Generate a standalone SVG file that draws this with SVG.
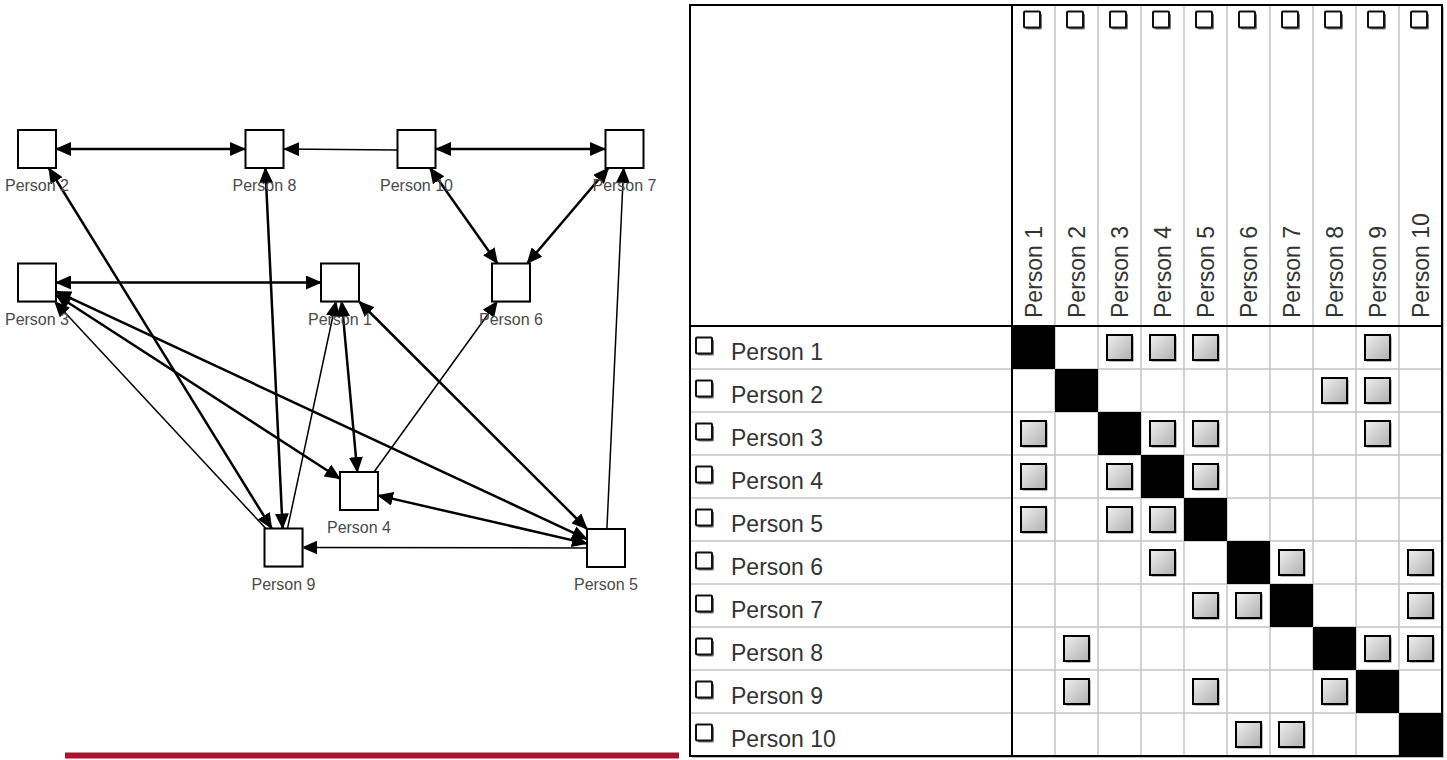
<svg xmlns="http://www.w3.org/2000/svg" width="1447" height="760" viewBox="0 0 1447 760">
<style>
.node{fill:#fff;stroke:#000;stroke-width:2}
.nshadow{fill:#aaa}
.nlabel{font-family:"Liberation Sans",Arial,sans-serif;font-size:16px;fill:#4a4a4a;text-anchor:middle}
.dbl{stroke:#000;stroke-width:2.5;fill:none;marker-start:url(#ah);marker-end:url(#ah)}
.sgl{stroke:#000;stroke-width:1.5;fill:none;marker-end:url(#ah)}
.grid{stroke:#c4c4c4;stroke-width:1.5}
.bord{stroke:#000;stroke-width:2;fill:none}
.mlabel{font-family:"Liberation Sans",Arial,sans-serif;font-size:23px;fill:#333}
.diag{fill:#000}
</style>
<defs>
<marker id="ah" markerUnits="userSpaceOnUse" markerWidth="16" markerHeight="14" viewBox="0 0 16 14" refX="15" refY="7" orient="auto-start-reverse">
<path d="M0,0 L16,7 L0,14 z" fill="#000"/>
</marker>
<linearGradient id="gg" x1="0" y1="0" x2="1" y2="1">
<stop offset="0" stop-color="#efefef"/>
<stop offset="1" stop-color="#b0b0b0"/>
</linearGradient>
<g id="gb">
<rect x="-11" y="-11" width="25" height="25" fill="#777"/>
<rect x="-12.5" y="-12.5" width="25" height="25" fill="url(#gg)" stroke="#000" stroke-width="2"/>
</g>
<g id="cb">
<rect x="-6" y="-6" width="16" height="16" rx="1.5" fill="#777"/>
<rect x="-8" y="-8" width="16" height="16" rx="1" fill="#fff" stroke="#111" stroke-width="2"/>
</g>
</defs>
<rect width="1447" height="760" fill="#fff"/>

<g id="connectors">
<line class="dbl" x1="56" y1="149" x2="245" y2="149"/>
<line class="sgl" x1="397" y1="150" x2="284" y2="149"/>
<line class="dbl" x1="436" y1="149" x2="605" y2="149"/>
<line class="dbl" x1="430" y1="168" x2="497.5" y2="263.5"/>
<line class="dbl" x1="608.4" y1="168" x2="527.2" y2="263.5"/>
<line class="dbl" x1="56" y1="282.5" x2="321" y2="282.5"/>
<line class="dbl" x1="48.8" y1="168" x2="271.7" y2="528.5"/>
<line class="dbl" x1="265.4" y1="168" x2="282.6" y2="528.5"/>
<line class="sgl" x1="287.5" y1="528.5" x2="336" y2="301.5"/>
<line class="dbl" x1="341.7" y1="301.5" x2="357.3" y2="472"/>
<line class="dbl" x1="359" y1="301.5" x2="587" y2="529"/>
<line class="dbl" x1="56" y1="294.8" x2="340" y2="478.7"/>
<line class="dbl" x1="56" y1="291.4" x2="587" y2="539.1"/>
<line class="dbl" x1="378" y1="495.4" x2="587" y2="543.6"/>
<line class="sgl" x1="265.8" y1="528.5" x2="54.7" y2="301.5"/>
<line class="sgl" x1="374" y1="472" x2="497.2" y2="301.5"/>
<line class="sgl" x1="587" y1="548" x2="302.5" y2="547.5"/>
<line class="sgl" x1="606.9" y1="529" x2="623.6" y2="168"/>
</g>

<g id="node-p2"><rect class="nshadow" x="19" y="131" width="38" height="38"/><rect class="node" x="18" y="130" width="38" height="38"/><text class="nlabel" x="37" y="191">Person 2</text></g>
<g id="node-p8"><rect class="nshadow" x="246" y="131" width="38" height="38"/><rect class="node" x="245.5" y="130" width="38" height="38"/><text class="nlabel" x="264.5" y="191">Person 8</text></g>
<g id="node-p10"><rect class="nshadow" x="398" y="131" width="38" height="38"/><rect class="node" x="397.5" y="130" width="38" height="38"/><text class="nlabel" x="416.5" y="191">Person 10</text></g>
<g id="node-p7"><rect class="nshadow" x="606" y="131" width="38" height="38"/><rect class="node" x="605.5" y="130" width="38" height="38"/><text class="nlabel" x="624.5" y="191">Person 7</text></g>
<g id="node-p3"><rect class="nshadow" x="19" y="264.5" width="38" height="38"/><rect class="node" x="18" y="263.5" width="38" height="38"/><text class="nlabel" x="37" y="324.5">Person 3</text></g>
<g id="node-p1"><rect class="nshadow" x="322" y="264.5" width="38" height="38"/><rect class="node" x="321" y="263.5" width="38" height="38"/><text class="nlabel" x="340" y="324.5">Person 1</text></g>
<g id="node-p6"><rect class="nshadow" x="493" y="264.5" width="38" height="38"/><rect class="node" x="492" y="263.5" width="38" height="38"/><text class="nlabel" x="511" y="324.5">Person 6</text></g>
<g id="node-p4"><rect class="nshadow" x="341" y="473" width="38" height="38"/><rect class="node" x="340" y="472" width="38" height="38"/><text class="nlabel" x="359" y="533">Person 4</text></g>
<g id="node-p9"><rect class="nshadow" x="265.5" y="529.5" width="38" height="38"/><rect class="node" x="264.5" y="528.5" width="38" height="38"/><text class="nlabel" x="283.5" y="590">Person 9</text></g>
<g id="node-p5"><rect class="nshadow" x="588" y="530" width="38" height="38"/><rect class="node" x="587" y="529" width="38" height="38"/><text class="nlabel" x="606" y="590">Person 5</text></g>

<rect id="red-rule" x="65" y="752.5" width="614" height="6" fill="#a8142c"/>

<g id="matrix">
<rect x="692" y="7" width="752" height="751" fill="#bbb"/>
<rect x="690" y="5" width="752" height="751" fill="#fff"/>
<g id="grid">
<line class="grid" x1="1055" y1="5" x2="1055" y2="756"/>
<line class="grid" x1="1098" y1="5" x2="1098" y2="756"/>
<line class="grid" x1="1141" y1="5" x2="1141" y2="756"/>
<line class="grid" x1="1184" y1="5" x2="1184" y2="756"/>
<line class="grid" x1="1227" y1="5" x2="1227" y2="756"/>
<line class="grid" x1="1270" y1="5" x2="1270" y2="756"/>
<line class="grid" x1="1313" y1="5" x2="1313" y2="756"/>
<line class="grid" x1="1356" y1="5" x2="1356" y2="756"/>
<line class="grid" x1="1399" y1="5" x2="1399" y2="756"/>
<line class="grid" x1="690" y1="369" x2="1442" y2="369"/>
<line class="grid" x1="690" y1="412" x2="1442" y2="412"/>
<line class="grid" x1="690" y1="455" x2="1442" y2="455"/>
<line class="grid" x1="690" y1="498" x2="1442" y2="498"/>
<line class="grid" x1="690" y1="541" x2="1442" y2="541"/>
<line class="grid" x1="690" y1="584" x2="1442" y2="584"/>
<line class="grid" x1="690" y1="627" x2="1442" y2="627"/>
<line class="grid" x1="690" y1="670" x2="1442" y2="670"/>
<line class="grid" x1="690" y1="713" x2="1442" y2="713"/>
</g>
<g id="diagonal">
<rect class="diag" x="1012" y="326" width="43" height="43"/>
<rect class="diag" x="1055" y="369" width="43" height="43"/>
<rect class="diag" x="1098" y="412" width="43" height="43"/>
<rect class="diag" x="1141" y="455" width="43" height="43"/>
<rect class="diag" x="1184" y="498" width="43" height="43"/>
<rect class="diag" x="1227" y="541" width="43" height="43"/>
<rect class="diag" x="1270" y="584" width="43" height="43"/>
<rect class="diag" x="1313" y="627" width="43" height="43"/>
<rect class="diag" x="1356" y="670" width="43" height="43"/>
<rect class="diag" x="1399" y="713" width="43" height="43"/>
</g>
<g id="marks">
<use href="#gb" x="1119.5" y="347.5"/><use href="#gb" x="1162.5" y="347.5"/><use href="#gb" x="1205.5" y="347.5"/><use href="#gb" x="1377.5" y="347.5"/>
<use href="#gb" x="1334.5" y="390.5"/><use href="#gb" x="1377.5" y="390.5"/>
<use href="#gb" x="1033.5" y="433.5"/><use href="#gb" x="1162.5" y="433.5"/><use href="#gb" x="1205.5" y="433.5"/><use href="#gb" x="1377.5" y="433.5"/>
<use href="#gb" x="1033.5" y="476.5"/><use href="#gb" x="1119.5" y="476.5"/><use href="#gb" x="1205.5" y="476.5"/>
<use href="#gb" x="1033.5" y="519.5"/><use href="#gb" x="1119.5" y="519.5"/><use href="#gb" x="1162.5" y="519.5"/>
<use href="#gb" x="1162.5" y="562.5"/><use href="#gb" x="1291.5" y="562.5"/><use href="#gb" x="1420.5" y="562.5"/>
<use href="#gb" x="1205.5" y="605.5"/><use href="#gb" x="1248.5" y="605.5"/><use href="#gb" x="1420.5" y="605.5"/>
<use href="#gb" x="1076.5" y="648.5"/><use href="#gb" x="1377.5" y="648.5"/><use href="#gb" x="1420.5" y="648.5"/>
<use href="#gb" x="1076.5" y="691.5"/><use href="#gb" x="1205.5" y="691.5"/><use href="#gb" x="1334.5" y="691.5"/>
<use href="#gb" x="1248.5" y="734.5"/><use href="#gb" x="1291.5" y="734.5"/>
</g>
<g id="borders">
<rect class="bord" x="690" y="5" width="752" height="751"/>
<line class="bord" x1="1012" y1="5" x2="1012" y2="756"/>
<line class="bord" x1="690" y1="326" x2="1442" y2="326"/>
</g>
<g id="col-headers">
<use href="#cb" x="1032" y="19.5"/><use href="#cb" x="1075" y="19.5"/><use href="#cb" x="1118" y="19.5"/><use href="#cb" x="1161" y="19.5"/><use href="#cb" x="1204" y="19.5"/>
<use href="#cb" x="1247" y="19.5"/><use href="#cb" x="1290" y="19.5"/><use href="#cb" x="1333" y="19.5"/><use href="#cb" x="1376" y="19.5"/><use href="#cb" x="1419" y="19.5"/>
<text class="mlabel" transform="translate(1042,318) rotate(-90)">Person 1</text>
<text class="mlabel" transform="translate(1085,318) rotate(-90)">Person 2</text>
<text class="mlabel" transform="translate(1128,318) rotate(-90)">Person 3</text>
<text class="mlabel" transform="translate(1171,318) rotate(-90)">Person 4</text>
<text class="mlabel" transform="translate(1214,318) rotate(-90)">Person 5</text>
<text class="mlabel" transform="translate(1257,318) rotate(-90)">Person 6</text>
<text class="mlabel" transform="translate(1300,318) rotate(-90)">Person 7</text>
<text class="mlabel" transform="translate(1343,318) rotate(-90)">Person 8</text>
<text class="mlabel" transform="translate(1386,318) rotate(-90)">Person 9</text>
<text class="mlabel" transform="translate(1429,318) rotate(-90)">Person 10</text>
</g>
<g id="row-headers">
<use href="#cb" x="704" y="345.5"/><text class="mlabel" x="731" y="359.5">Person 1</text>
<use href="#cb" x="704" y="388.5"/><text class="mlabel" x="731" y="402.5">Person 2</text>
<use href="#cb" x="704" y="431.5"/><text class="mlabel" x="731" y="445.5">Person 3</text>
<use href="#cb" x="704" y="474.5"/><text class="mlabel" x="731" y="488.5">Person 4</text>
<use href="#cb" x="704" y="517.5"/><text class="mlabel" x="731" y="531.5">Person 5</text>
<use href="#cb" x="704" y="560.5"/><text class="mlabel" x="731" y="574.5">Person 6</text>
<use href="#cb" x="704" y="603.5"/><text class="mlabel" x="731" y="617.5">Person 7</text>
<use href="#cb" x="704" y="646.5"/><text class="mlabel" x="731" y="660.5">Person 8</text>
<use href="#cb" x="704" y="689.5"/><text class="mlabel" x="731" y="703.5">Person 9</text>
<use href="#cb" x="704" y="732.5"/><text class="mlabel" x="731" y="746.5">Person 10</text>
</g>
</g>
</svg>
